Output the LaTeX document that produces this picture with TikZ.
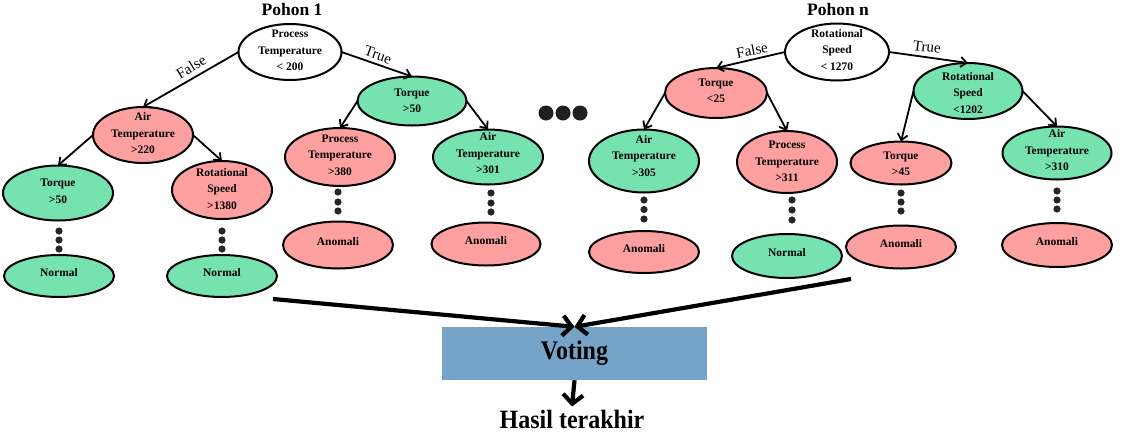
\documentclass[tikz,border=0pt]{standalone}
\usepackage{fontspec}
\usepackage{graphicx}
\setmainfont{Liberation Serif}
\usetikzlibrary{shapes.geometric,arrows.meta}
\definecolor{pinkf}{RGB}{255,160,160}
\definecolor{greenf}{RGB}{118,226,176}
\definecolor{voteblue}{RGB}{118,164,200}
\begin{document}
\begin{tikzpicture}[x=1pt,y=-1pt,
  el/.style={ellipse, draw=black, line width=2pt, inner sep=0pt, outer sep=0pt},
  pk/.style={el, fill=pinkf},
  gr/.style={el, fill=greenf},
  wh/.style={el, fill=white},
  lbl/.style={align=center, inner sep=0pt, font=\bfseries\fontsize{11.5}{16.5}\selectfont},
  edgelbl/.style={inner sep=0pt, font=\fontsize{15}{15}\selectfont},
  title/.style={inner sep=0pt, font=\bfseries\fontsize{17.5}{17.5}\selectfont},
  arr/.style={line width=1.8pt, -{Straight Barb[length=6pt,width=10pt]}},
  bigarr/.style={line width=4.2pt, -{Straight Barb[length=9pt,width=20pt]}},
  dotc/.style={fill=black!85}
]
\useasboundingbox (0,0) rectangle (1124,432);

% titles
\node[title] (t1) at (292,10) {Pohon 1};
\node[title] (tn) at (838,10) {Pohon n};

% ---------- tree 1 ----------
\node[wh, minimum width=103pt, minimum height=56pt,
  label={[lbl,yshift=1.5pt]center:{Process\\Temperature\\< 200}}] (root1) at (290,52) {};
\node[pk, minimum width=100pt, minimum height=56pt,
  label={[lbl,yshift=1.5pt]center:{Air\\Temperature\\>220}}] (at1) at (143,135) {};
\node[gr, minimum width=110pt, minimum height=55pt,
  label={[lbl,yshift=1.5pt]center:{Torque\\>50}}] (tq1) at (58,193) {};
\node[pk, minimum width=100pt, minimum height=58pt,
  label={[lbl,yshift=1pt]center:{Rotational\\Speed\\>1380}}] (rs1) at (222,190) {};
\node[gr, minimum width=110pt, minimum height=42pt,
  label={[lbl,yshift=3pt]center:{Normal}}] (no1) at (59,276) {};
\node[gr, minimum width=110pt, minimum height=42pt,
  label={[lbl,yshift=3pt]center:{Normal}}] (no2) at (222,276) {};
\node[gr, minimum width=109pt, minimum height=49pt,
  label={[lbl]center:{Torque\\>50}}] (tq2) at (412,101) {};
\node[pk, minimum width=110pt, minimum height=58pt,
  label={[lbl,yshift=2pt]center:{Process\\Temperature\\>380}}] (pt1) at (340,157) {};
\node[gr, minimum width=110pt, minimum height=55pt,
  label={[lbl,yshift=3.5pt]center:{Air\\Temperature\\>301}}] (at2) at (488,157) {};
\node[pk, minimum width=110pt, minimum height=47pt,
  label={[lbl,yshift=3pt]center:{Anomali}}] (an1) at (338,245) {};
\node[pk, minimum width=109pt, minimum height=43pt,
  label={[lbl,yshift=3pt]center:{Anomali}}] (an2) at (486,244) {};

% ---------- tree n ----------
\node[wh, minimum width=104pt, minimum height=57pt,
  label={[lbl,yshift=2pt]center:{Rotational\\Speed\\< 1270}}] (rootn) at (837,52) {};
\node[pk, minimum width=102pt, minimum height=50pt,
  label={[lbl,yshift=2pt]center:{Torque\\<25}}] (tq3) at (716,93) {};
\node[gr, minimum width=109pt, minimum height=56pt,
  label={[lbl,yshift=-2pt]center:{Rotational\\Speed\\<1202}}] (rs2) at (968,91) {};
\node[gr, minimum width=110pt, minimum height=63pt,
  label={[lbl,yshift=5pt]center:{Air\\Temperature\\>305}}] (at3) at (644,161) {};
\node[pk, minimum width=100pt, minimum height=62pt,
  label={[lbl,yshift=0.5pt]center:{Process\\Temperature\\>311}}] (pt2) at (787,162) {};
\node[pk, minimum width=101pt, minimum height=43pt,
  label={[lbl,yshift=-1pt]center:{Torque\\>45}}] (tq4) at (901,163) {};
\node[gr, minimum width=109pt, minimum height=53pt,
  label={[lbl,yshift=2.5pt]center:{Air\\Temperature\\>310}}] (at4) at (1057,153) {};
\node[pk, minimum width=110pt, minimum height=42pt,
  label={[lbl,yshift=3pt]center:{Anomali}}] (an3) at (644,252) {};
\node[gr, minimum width=110pt, minimum height=44pt,
  label={[lbl,yshift=3pt]center:{Normal}}] (no3) at (787,256) {};
\node[pk, minimum width=110pt, minimum height=43pt,
  label={[lbl,yshift=3pt]center:{Anomali}}] (an4) at (901,247) {};
\node[pk, minimum width=110pt, minimum height=44pt,
  label={[lbl,yshift=3pt]center:{Anomali}}] (an5) at (1057,245) {};

% edge labels
\node[edgelbl, rotate=31] (f1) at (191,67) {False};
\node[edgelbl, rotate=-20] (tr1) at (378,55) {True};
\node[edgelbl, rotate=11] (fn) at (752,50) {False};
\node[edgelbl, rotate=-7] (trn) at (927,47) {True};

% connectors tree 1
\draw[arr] (root1.west) -- (at1.north);
\draw[arr] (root1.east) -- (tq2.north);
\draw[arr] (at1.west) -- (tq1.north);
\draw[arr] (at1.east) -- (rs1.north);
\draw[arr] (tq2.west) -- (pt1.north);
\draw[arr] (tq2.east) -- (at2.north);
% connectors tree n
\draw[arr] (rootn.west) -- (tq3.north);
\draw[arr] (rootn.east) -- (rs2.north);
\draw[arr] (tq3.west) -- (at3.north);
\draw[arr] (tq3.east) -- (pt2.north);
\draw[arr] (rs2.west) -- (tq4.north);
\draw[arr] (rs2.east) -- (at4.north);

% vertical dots
\foreach \x/\ya/\yb/\yc in {59/231/240/249, 222/231/240/249, 338/192/202/211,
    491/193/203/212, 644/200/209.5/219, 792/200/210/220, 901/193/202/211, 1057/191/200/209}{
  \fill[dotc] (\x,\ya) circle[radius=3.6pt];
  \fill[dotc] (\x,\yb) circle[radius=3.6pt];
  \fill[dotc] (\x,\yc) circle[radius=3.6pt];
}
% big dots
\foreach \x in {546,563,580}{
  \fill[black!88] (\x,113) circle[radius=7.5pt];
}

% voting
\node[rectangle, fill=voteblue, minimum width=265pt, minimum height=53pt, inner sep=0pt,
  font=\bfseries\fontsize{24}{24}\selectfont] (vote) at (574.5,353.5) {\scalebox{1}[1.12]{Voting}};
\node[inner sep=0pt, font=\bfseries\fontsize{24}{24}\selectfont, anchor=base] (hasil) at (572,428) {\scalebox{1}[1.1]{Hasil terakhir}};

\coordinate (cl) at (273,299);
\coordinate (cr) at (851,279);
\draw[bigarr] (cl) -- (vote.north);
\draw[bigarr] (cr) -- (vote.north);
\draw[bigarr] (vote.south) -- ([yshift=3pt]hasil.north);
\end{tikzpicture}
\end{document}
